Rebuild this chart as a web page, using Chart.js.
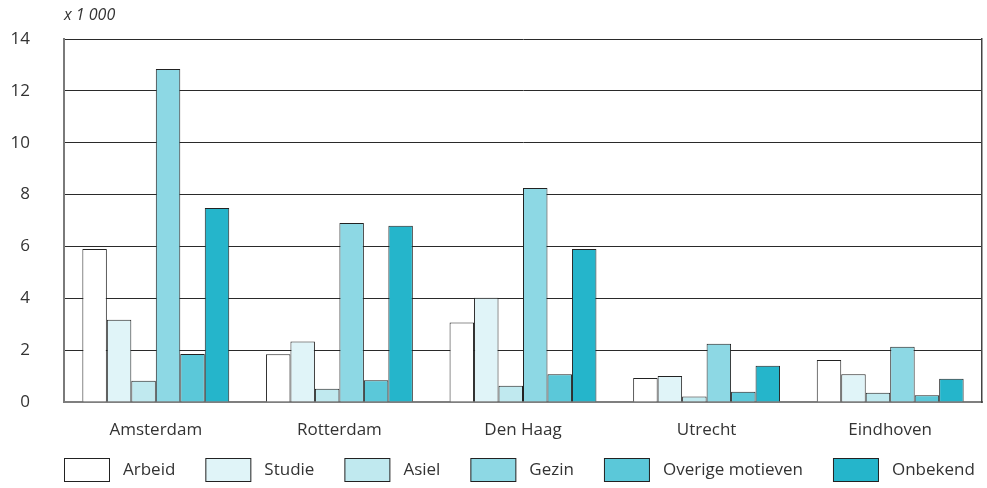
<!DOCTYPE html>
<html>
<head>
<meta charset="utf-8">
<script src="https://cdn.jsdelivr.net/npm/chart.js@4/dist/chart.umd.min.js"></script>
<style>
  html, body { margin: 0; padding: 0; background: #fff; }
  #wrap { position: relative; width: 987px; height: 488px; }
</style>
</head>
<body>
<div id="wrap"><canvas id="c" width="987" height="488"></canvas></div>
<script>
// ---- data (x 1 000) ----
const categories = ["Amsterdam", "Rotterdam", "Den Haag", "Utrecht", "Eindhoven"];
const arbeid   = [5.9, 1.84, 3.07, 0.93, 1.62];
const studie   = [3.17, 2.33, 4.02, 1.0, 1.07];
const asiel    = [0.82, 0.51, 0.63, 0.21, 0.36];
const gezin    = [12.84, 6.9, 8.25, 2.25, 2.13];
const overige  = [1.85, 0.84, 1.07, 0.40, 0.26];
const onbekend = [7.48, 6.8, 5.9, 1.40, 0.90];
const seriesLabels = ["Arbeid", "Studie", "Asiel", "Gezin", "Overige motieven", "Onbekend"];
const seriesColors = ["#ffffff", "#e0f4f8", "#c0e9ef", "#8dd8e4", "#5bc8d9", "#25b5cb"];
const yTicks = [0, 2, 4, 6, 8, 10, 12, 14];
const unitLabel = "x 1 000";

const seriesValues = [arbeid, studie, asiel, gezin, overige, onbekend];
const FONT = "'Open Sans', 'Noto Sans', sans-serif";

const unitText = {
  id: 'unitText',
  afterDraw(chart) {
    const ctx = chart.ctx;
    ctx.save();
    ctx.font = "italic 16px " + FONT;
    ctx.fillStyle = '#333';
    ctx.textAlign = 'left';
    ctx.textBaseline = 'middle';
    ctx.fillText(unitLabel, chart.chartArea.left, 15);
    ctx.restore();
  }
};

const customLegend = {
  id: 'customLegend',
  afterDraw(chart) {
    const ctx = chart.ctx;
    const boxW = 45, boxH = 23, gapText = 14, gapItem = 30;
    let x = chart.chartArea.left;
    const top = chart.height - 30;
    ctx.save();
    ctx.font = "17px " + FONT;
    ctx.textBaseline = 'middle';
    ctx.textAlign = 'left';
    chart.data.datasets.forEach(ds => {
      ctx.fillStyle = ds.backgroundColor;
      ctx.fillRect(x + 0.5, top + 0.5, boxW, boxH);
      ctx.strokeStyle = '#222';
      ctx.lineWidth = 1;
      ctx.strokeRect(x + 0.5, top + 0.5, boxW, boxH);
      const tx = x + boxW + gapText;
      ctx.fillStyle = '#333';
      ctx.fillText(ds.label, tx, top + boxH / 2 + 1);
      x = tx + ctx.measureText(ds.label).width + gapItem;
    });
    ctx.restore();
  }
};

new Chart(document.getElementById('c'), {
  type: 'bar',
  data: {
    labels: categories,
    datasets: seriesLabels.map((l, i) => ({
      label: l,
      data: seriesValues[i],
      backgroundColor: seriesColors[i],
      borderColor: '#222',
      borderWidth: 1,
      categoryPercentage: 0.8,
      barPercentage: 1.0
    }))
  },
  options: {
    responsive: false,
    animation: false,
    layout: { padding: { top: 39, right: 5, bottom: 0, left: 0 } },
    plugins: {
      legend: { display: false },
      tooltip: { enabled: false },
      title: { display: false }
    },
    scales: {
      x: {
        grid: { display: false, drawTicks: false },
        border: { display: true, color: '#7f7f7f', width: 2 },
        ticks: { color: '#333', font: { family: FONT, size: 17 }, padding: 18, maxRotation: 0 },
        afterFit(scale) { scale.height = 86; }
      },
      y: {
        min: 0, max: 14,
        afterBuildTicks(scale) { scale.ticks = yTicks.map(v => ({ value: v })); },
        grid: { color: '#2a2a2a', lineWidth: 1, drawTicks: true, tickLength: 30, tickColor: 'rgba(0,0,0,0)' },
        border: { display: true, color: '#7a7a7a', width: 2 },
        ticks: { color: '#333', font: { family: FONT, size: 17 }, padding: 4 },
        afterFit(scale) { scale.width = 64; }
      },
      yRight: {
        position: 'right',
        min: 0, max: 14,
        grid: { display: false, drawTicks: false },
        border: { display: true, color: '#444', width: 1.5 },
        ticks: { display: false },
        afterFit(scale) { scale.width = 0; }
      }
    }
  },
  plugins: [customLegend, unitText]
});
</script>
</body>
</html>
